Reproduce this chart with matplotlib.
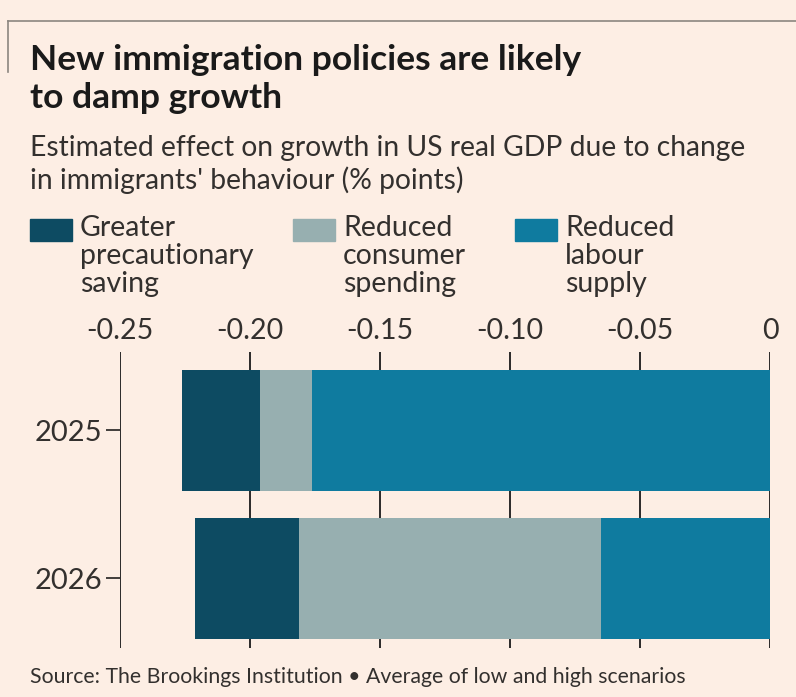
import matplotlib.pyplot as plt
from matplotlib.patches import Rectangle
from matplotlib.lines import Line2D
import numpy as np

years = ["2025", "2026"]
saving = [0.030, 0.040]      # greater precautionary saving
consumer = [0.020, 0.116]    # reduced consumer spending
labour = [0.176, 0.065]      # reduced labour supply
series_labels = ["Greater\nprecautionary\nsaving", "Reduced\nconsumer\nspending", "Reduced\nlabour\nsupply"]
xticks = [-0.25, -0.20, -0.15, -0.10, -0.05, 0]
xticklabels = ["-0.25", "-0.20", "-0.15", "-0.10", "-0.05", "0"]

bg = "#fdeee4"
txt = "#33302e"
colors = ["#0d4b62", "#97afb0", "#0f7b9f"]

plt.rcParams['font.family'] = ['Lato', 'DejaVu Sans']

fig = plt.figure(figsize=(7.96, 6.97), dpi=100, facecolor=bg)
ax = fig.add_axes([120/796, 1-648/697, 650/796, 296/697])
ax.set_facecolor(bg)

y = np.arange(len(years))
# vertical grid lines drawn first, bars cover them
for t in xticks:
    ax.axvline(t, color="#1a1a1a", lw=1.3, zorder=0)

left = np.zeros(len(years))
for vals, c in zip([labour, consumer, saving], colors[::-1]):
    v = -np.array(vals)
    ax.barh(y, v, left=left, height=0.82, color=c, zorder=2)
    left = left + v

ax.set_xlim(-0.25, 0)
ax.set_ylim(1.47, -0.53)
ax.set_yticks(y)
ax.set_yticklabels(years)
ax.set_xticks(xticks)
ax.set_xticklabels(xticklabels)
ax.xaxis.tick_top()
ax.tick_params(axis='x', length=0, pad=6, labelsize=20.5, colors=txt)
ax.tick_params(axis='y', length=10, width=1.3, pad=3, labelsize=21, colors=txt)
for s in ax.spines.values():
    s.set_visible(False)

# header
fig.text(30/796, 1-44/697, "New immigration policies are likely\nto damp growth",
         fontsize=25.5, fontweight='bold', color="#1a1a1a", va='top', linespacing=1.25)
fig.text(30/796, 1-135/697, "Estimated effect on growth in US real GDP due to change\nin immigrants' behaviour (% points)",
         fontsize=20.3, color=txt, va='top', linespacing=1.25)

# legend
lx = [30, 293, 515]
for x0, c, lab in zip(lx, colors, series_labels):
    fig.patches.append(Rectangle((x0/796, 1-241/697), 42/796, 22/697,
                                 transform=fig.transFigure, color=c, figure=fig))
    fig.text((x0+50)/796, 1-215/697, lab, fontsize=20.5, color=txt, va='top', linespacing=1.1)

# top rule
fig.add_artist(Line2D([8/796, 1], [1-21/697, 1-21/697], color="#8c8680", lw=1.2))
fig.add_artist(Line2D([8/796, 8/796], [1-21/697, 1-72/697], color="#8c8680", lw=1.2))

fig.text(30/796, 1-677/697, "Source: The Brookings Institution \u2022 Average of low and high scenarios",
         fontsize=15.3, color=txt, va='center')

fig.savefig("out.png", dpi=100, facecolor=bg)
